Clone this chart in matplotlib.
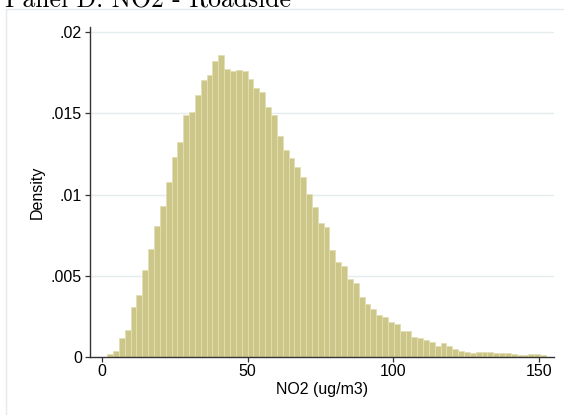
import matplotlib
matplotlib.use("Agg")
import matplotlib.pyplot as plt
from matplotlib.patches import Rectangle
import numpy as np

# histogram of NO2 at roadside monitors
bin_lo = 1.8
bin_w = 2.007
density = [
    0.00017, 0.00040, 0.00115, 0.00168, 0.00306, 0.00380, 0.00538, 0.00664, 0.00807, 0.00930,
    0.01079, 0.01231, 0.01323, 0.01490, 0.01508, 0.01613, 0.01707, 0.01736, 0.01826, 0.01862,
    0.01775, 0.01763, 0.01769, 0.01763, 0.01715, 0.01654, 0.01633, 0.01541, 0.01493, 0.01362,
    0.01272, 0.01225, 0.01169, 0.01111, 0.01005, 0.00926, 0.00826, 0.00801, 0.00660, 0.00584,
    0.00561, 0.00483, 0.00458, 0.00370, 0.00325, 0.00294, 0.00261, 0.00247, 0.00217, 0.00202,
    0.00160, 0.00162, 0.00121, 0.00115, 0.00105, 0.00090, 0.00068, 0.00084, 0.00066, 0.00047,
    0.00035, 0.00028, 0.00025, 0.00033, 0.00033, 0.00030, 0.00025, 0.00022, 0.00022, 0.00018,
    0.00015, 0.00014, 0.00016, 0.00016, 0.00014,
]
x_ticks = [0, 50, 100, 150]
y_ticks = [0, 0.005, 0.01, 0.015, 0.02]
y_ticklabels = ["0", ".005", ".01", ".015", ".02"]

W, H = 564, 415
fig = plt.figure(figsize=(W / 100, H / 100), dpi=100)
fig.patch.set_facecolor("white")

# light outer frame of the graph region
fig.patches.append(Rectangle((6 / W, -0.2), 1.5, 1.2 - 9 / H, transform=fig.transFigure,
                             facecolor="none", edgecolor="#e4eaec", lw=1.0))

fig.text(5 / W, 1 - 7 / H, "Panel D: NO2 - Roadside", fontfamily="cmr10",
         fontsize=18.5, ha="left", va="baseline", color="black")

left, right, top, bottom = 90, 554, 26.7, 357
ax = fig.add_axes([left / W, 1 - bottom / H, (right - left) / W, (bottom - top) / H])
ax.set_facecolor("white")

lefts = bin_lo + bin_w * np.arange(len(density))
ax.bar(lefts, density, width=bin_w, align="edge", color="#ccc688",
       edgecolor="#e2dfb4", linewidth=0.6, zorder=2)

ax.set_xlim(-4.1, 155.1)
ax.set_ylim(0, 0.020345)
ax.set_xticks(x_ticks)
ax.set_yticks(y_ticks)
ax.set_yticklabels(y_ticklabels)
for y in y_ticks[1:]:
    ax.axhline(y, color="#e4ecef", lw=1.0, zorder=1)

for s in ["top", "right"]:
    ax.spines[s].set_visible(False)
for s in ["left", "bottom"]:
    ax.spines[s].set_color("#333333")
    ax.spines[s].set_linewidth(1.0)
    ax.spines[s].set_zorder(3)

ax.tick_params(axis="both", direction="out", length=3.3, width=0.9, color="#333333",
               labelsize=11.5, labelcolor="black")
ax.tick_params(axis="y", pad=2.6)
ax.tick_params(axis="x", pad=2.0)
for lab in ax.get_xticklabels() + ax.get_yticklabels():
    lab.set_fontfamily("Liberation Sans")

ax.set_xlabel("NO2 (ug/m3)", fontfamily="Liberation Sans", fontsize=11.5, labelpad=2)
ax.set_ylabel("Density", fontfamily="Liberation Sans", fontsize=11.5, labelpad=4)

fig.savefig("out.png", dpi=100)
